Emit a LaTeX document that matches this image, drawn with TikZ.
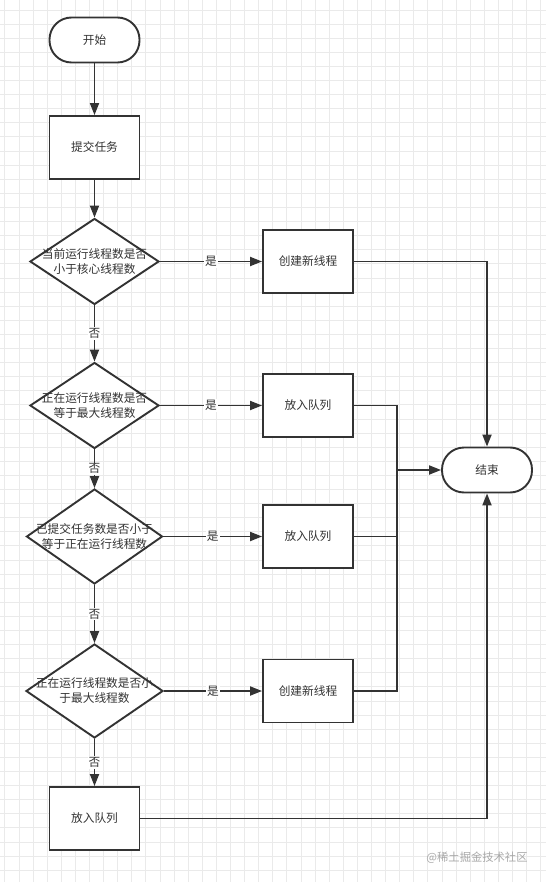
\documentclass[tikz,border=0pt]{standalone}
\usepackage{fontspec}
\setmainfont{Noto Sans CJK SC}
\usepackage{xcolor}
\usepackage{tikz}
\usetikzlibrary{shapes.geometric,arrows.meta}
\definecolor{ln}{HTML}{333333}
\definecolor{gridc}{HTML}{EAEAEA}
\definecolor{wm}{HTML}{A8A8A8}

\begin{document}
\begin{tikzpicture}[x=1pt,y=-1pt,text=ln,font=\fontsize{11.7}{15}\selectfont,
    term/.style={draw=ln,line width=1.9pt,fill=white,rectangle,rounded corners=22pt,
      minimum width=90pt,minimum height=45pt},
    proc/.style={draw=ln,line width=1.9pt,fill=white,rectangle,
      minimum width=90pt,minimum height=63pt},
    dec/.style={draw=ln,line width=1.9pt,fill=white,diamond,inner sep=0pt,
      minimum width=129pt,minimum height=86pt},
    arr/.style={draw=ln,line width=1.9pt,-{Triangle[length=12pt,width=9pt]}},
    lin/.style={draw=ln,line width=1.9pt},
    lab/.style={fill=white,inner sep=1pt}]
        \useasboundingbox (0,0) rectangle (546,882);
        \fill[white] (0,0) rectangle (546,882);

        % background grid
        \foreach \k in {0,...,38}
          \draw[gridc,line width=0.8pt] ({4.8+14.1*\k},0) -- ++(0,882);
        \foreach \k in {0,...,62}
          \draw[gridc,line width=0.8pt] (0,{10+14.1*\k}) -- ++(546,0);

        % left column
        \def\cx{94.5} % x of left column
        \node[term] (S) at (\cx,40) {开始};
        \node[proc] (T) at (\cx,147.5) {提交任务};
        \node[dec,label={[align=center]center:当前运行线程数是否\\小于核心线程数}] (D1) at (\cx,261.5) {};
        \node[dec,label={[align=center]center:正在运行线程数是否\\等于最大线程数}] (D2) at (\cx,405.5) {};
        \node[dec,minimum width=136pt,minimum height=95pt,
          label={[align=center]center:已提交任务数是否小于\\等于正在运行线程数}] (D3) at (\cx,536.5) {};
        \node[dec,minimum width=137pt,minimum height=94pt,
          label={[align=center]center:正在运行线程数是否小\\于最大线程数}] (D4) at (\cx,691) {};
        \node[proc] (B5) at (\cx,818.5) {放入队列};

        % middle column
        \node[proc] (B1) at (308,261.5) {创建新线程};
        \node[proc] (B2) at (308,405.5) {放入队列};
        \node[proc] (B3) at (308,536.5) {放入队列};
        \node[proc] (B4) at (308,691) {创建新线程};

        % end
        \node[term] (E) at (487,470) {结束};
        \coordinate (M) at (397,470);

        % flow down
        \draw[arr] (S) -- (T);
        \draw[arr] (T) -- (D1);
        \draw[arr] (D1) -- node[lab] {否} (D2);
        \draw[arr] (D2) -- node[lab] {否} (D3);
        \draw[arr] (D3) -- node[lab] {否} (D4);
        \draw[arr] (D4) -- node[lab] {否} (B5);

        % yes branches
        \draw[arr] (D1) -- node[lab] {是} (B1);
        \draw[arr] (D2) -- node[lab] {是} (B2);
        \draw[arr] (D3) -- node[lab] {是} (B3);
        \draw[arr] (D4) -- node[lab] {是} (B4);

        % to end
        \draw[arr] (B1) -| (E);
        \draw[lin] (B2) -| (M);
        \draw[lin] (B3) -| (M);
        \draw[lin] (B4) -| (M);
        \draw[arr] (M) -- (E);
        \draw[arr] (B5) -| (E);

        % watermark
        \node[text=wm,font=\fontsize{11.3}{13}\selectfont] (W) at (477,858) {@稀土掘金技术社区};
\end{tikzpicture}
\end{document}
